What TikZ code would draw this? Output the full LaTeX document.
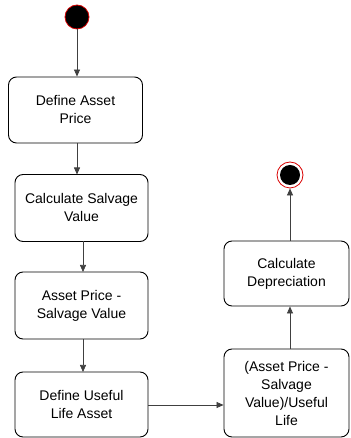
\documentclass[tikz,border=0pt]{standalone}
\usepackage{fontspec}
\setmainfont{Liberation Sans}
\usetikzlibrary{arrows.meta}
\begin{document}
\begin{tikzpicture}[x=1pt,y=1pt,
  act/.style={draw=black, line width=0.9pt, rounded corners=8pt, align=center,
    font=\fontsize{14}{18}\selectfont, inner sep=2pt},
  flow/.style={draw=black!75, line width=0.7pt, -{Triangle[length=7pt,width=6pt]}}]
\useasboundingbox (0,0) rectangle (350,438);
% start state
\node (start) [circle, fill=black, draw=red!85!black, line width=0.8pt, minimum size=24pt, inner sep=0pt] at (77,421) {};
% activities
\node (a1) [act, minimum width=134pt, minimum height=66pt] at (75.5,328) {Define Asset\\Price};
\node (a2) [act, minimum width=133pt, minimum height=67pt] at (81.5,230) {Calculate Salvage\\Value};
\node (a3) [act, minimum width=133pt, minimum height=67pt] at (81.5,132.5) {Asset Price -\\Salvage Value};
\node (a4) [act, minimum width=133pt, minimum height=65pt] at (81.5,33.5) {Define Useful\\Life Asset};
\node (a5) [act, minimum width=125pt, minimum height=88pt] at (286.5,45) {(Asset Price -\\Salvage\\Value)/Useful\\Life};
\node (a6) [act, minimum width=125pt, minimum height=65pt] at (286.5,164.5) {Calculate\\Depreciation};
% final state
\node (stop) [circle, draw=red!85!black, line width=0.8pt, minimum size=26pt, inner sep=0pt] at (290,263) {};
\fill[black] (stop.center) circle (10pt);
% transitions
\draw[flow] (start.south) -- (start.south |- a1.north);
\draw[flow] (77,295) -- (77,263.5);
\draw[flow] (83,196.5) -- (83,166);
\draw[flow] (83,99) -- (83,66);
\draw[flow] (a4.east |- 0,33) -- (a5.west |- 0,33);
\draw[flow] (a5.north -| stop) -- (a6.south -| stop);
\draw[flow] (a6.north -| stop) -- (stop.south);
\end{tikzpicture}
\end{document}
